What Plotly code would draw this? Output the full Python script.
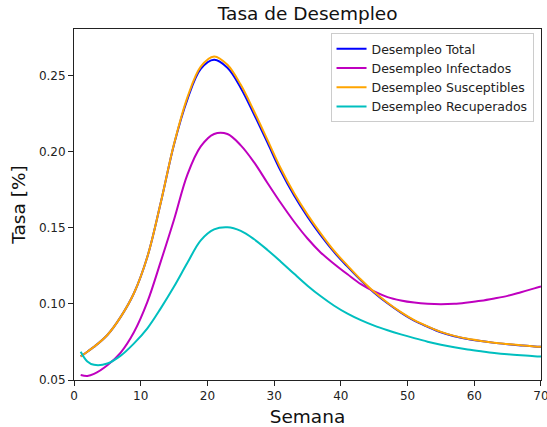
import plotly.graph_objects as go

# Semanas de simulación
semanas = [1, 2, 3, 5, 7, 9, 11, 13, 15, 17, 19, 21, 23, 25, 27, 29, 31, 33, 35, 37,
           39, 41, 43, 45, 47, 49, 51, 53, 55, 57, 59, 61, 63, 65, 67, 69, 70]

# Tasas de desempleo por grupo
desempleo_total = [0.0655, 0.0686, 0.0718, 0.0796, 0.0915, 0.1072, 0.1310, 0.1665, 0.2050, 0.2345,
                   0.2545, 0.2605, 0.2552, 0.2420, 0.2245, 0.2060, 0.1873, 0.1712, 0.1573, 0.1450,
                   0.1340, 0.1245, 0.1155, 0.1074, 0.1004, 0.0943, 0.0890, 0.0850, 0.0814, 0.0788,
                   0.0770, 0.0756, 0.0744, 0.0735, 0.0727, 0.0720, 0.0718]
desempleo_infectados = [0.0533, 0.0527, 0.0540, 0.0597, 0.0680, 0.0815, 0.1013, 0.1278, 0.1555, 0.1850,
                        0.2035, 0.2117, 0.2117, 0.2042, 0.1930, 0.1795, 0.1663, 0.1540, 0.1430, 0.1337,
                        0.1263, 0.1195, 0.1130, 0.1082, 0.1045, 0.1023, 0.1009, 0.1001, 0.0998, 0.1001,
                        0.1010, 0.1021, 0.1036, 0.1053, 0.1077, 0.1102, 0.1114]
desempleo_susceptibles = [0.0655, 0.0686, 0.0718, 0.0796, 0.0915, 0.1072, 0.1310, 0.1665, 0.2052, 0.2358,
                          0.2560, 0.2627, 0.2572, 0.2440, 0.2265, 0.2078, 0.1890, 0.1727, 0.1587, 0.1462,
                          0.1348, 0.1252, 0.1160, 0.1078, 0.1008, 0.0946, 0.0893, 0.0852, 0.0816, 0.0790,
                          0.0771, 0.0757, 0.0745, 0.0736, 0.0728, 0.0721, 0.0719]
desempleo_recuperados = [0.0686, 0.0622, 0.0600, 0.0608, 0.0660, 0.0741, 0.0840, 0.0971, 0.1114, 0.1270,
                         0.1418, 0.1490, 0.1504, 0.1480, 0.1425, 0.1355, 0.1278, 0.1198, 0.1120, 0.1050,
                         0.0988, 0.0936, 0.0893, 0.0857, 0.0827, 0.0800, 0.0775, 0.0752, 0.0732, 0.0715,
                         0.0701, 0.0689, 0.0678, 0.0669, 0.0662, 0.0656, 0.0654]

series = [
    ("Desempleo Total", desempleo_total, "#0000ff"),
    ("Desempleo Infectados", desempleo_infectados, "#bf00bf"),
    ("Desempleo Susceptibles", desempleo_susceptibles, "#ffa500"),
    ("Desempleo Recuperados", desempleo_recuperados, "#00bfbf"),
]

x_ticks = [0, 10, 20, 30, 40, 50, 60, 70]
y_ticks = [0.05, 0.10, 0.15, 0.20, 0.25]

fig = go.Figure()
for i, (nombre, valores, color) in enumerate(series):
    fig.add_trace(go.Scatter(
        x=semanas, y=valores, name=nombre, mode="lines",
        line=dict(color=color, width=2, shape="spline", smoothing=1.0),
        legendgroup=f"g{i}",
    ))

font = "DejaVu Sans"
axis_common = dict(
    showgrid=False, zeroline=False, showline=True, linecolor="#222", linewidth=1,
    mirror=True, ticks="outside", ticklen=5, tickwidth=1, tickcolor="#222",
    tickfont=dict(family=font, size=12, color="#222"),
    ticklabeloverflow="allow", automargin=False,
)

fig.update_layout(
    width=547, height=427,
    margin=dict(l=74, r=6, t=29, b=47),
    paper_bgcolor="white", plot_bgcolor="white",
    title=dict(text="Tasa de Desempleo", x=0.5625, xanchor="center",
               y=1 - 14 / 427, yanchor="middle", yref="container",
               font=dict(family=font, size=18.5, color="#111")),
    xaxis=dict(range=[0, 70.001], tickvals=x_ticks, **axis_common,
               title=dict(text="Semana", font=dict(family=font, size=18.5, color="#111"), standoff=11)),
    yaxis=dict(range=[0.05, 0.2807], tickvals=y_ticks, tickformat=".2f", **axis_common,
               title=dict(text="Tasa [%]", font=dict(family=font, size=18.5, color="#111"), standoff=8)),
    legend=dict(x=0.984, y=0.988, xanchor="right", yanchor="top",
                bgcolor="rgba(255,255,255,0.8)", bordercolor="#cccccc", borderwidth=1,
                font=dict(family=font, size=12.5, color="#222"),
                traceorder="grouped", tracegroupgap=0),
    showlegend=True,
)

fig.write_html("out.html")
